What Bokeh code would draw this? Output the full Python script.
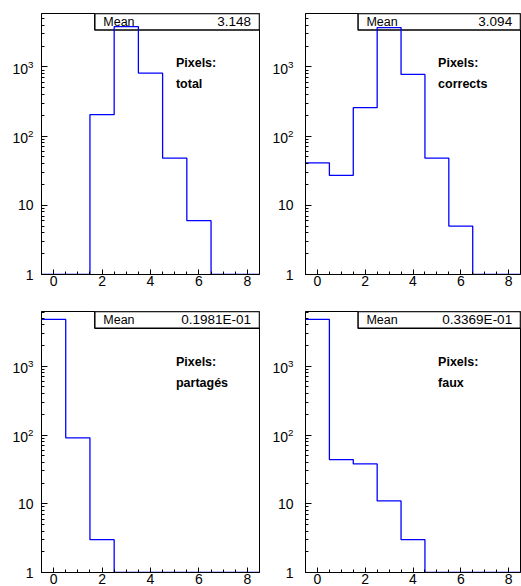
import numpy as np
from bokeh.plotting import figure
from bokeh.layouts import column, row
from bokeh.models import FixedTicker, LogTickFormatter, Range1d
from bokeh.core.properties import value
from bokeh.embed import file_html
from bokeh.resources import INLINE

# ---- data ----
bins = [0, 1, 2, 3, 4, 5, 6, 7, 8]
total = [0, 0, 204, 3800, 812, 48, 6, 0, 0]
corrects = [41, 27, 257, 3700, 778, 48, 5, 0, 0]
partages = [4800, 91, 3, 0, 0, 0, 0, 0, 0]
faux = [4800, 44, 38, 11, 3, 0, 0, 0, 0]
means = ["3.148", "3.094", "0.1981E-01", "0.3369E-01"]
names = ["total", "corrects", "partagés", "faux"]
x_major = [0, 2, 4, 6, 8]
x_minor = [0.5, 1, 1.5, 2.5, 3, 3.5, 4.5, 5, 5.5, 6.5, 7, 7.5]
y_major = [1, 10, 100, 1000]
y_minor = [2, 3, 4, 5, 6, 7, 8, 9,
           20, 30, 40, 50, 60, 70, 80, 90,
           200, 300, 400, 500, 600, 700, 800, 900,
           2000, 3000, 4000, 5000, 6000, 7000, 8000, 9000]

FONT = value("Liberation Sans")


def make(vals, mean_txt, name, left, top):
    W = 264 if left else 257
    H = 296 if top else 290
    y_end = 5900 if top else 6270
    frame_h = 261 if top else 258
    px_dec = frame_h / np.log10(y_end)
    p = figure(width=W, height=H,
               x_range=Range1d(-0.5, 8.5), y_range=Range1d(1, y_end),
               y_axis_type="log", output_backend="svg", toolbar_location=None,
               min_border_left=41,
               min_border_right=5 if left else 1,
               min_border_top=13 if top else 15,
               min_border_bottom=22 if top else 13)
    p.grid.visible = False
    p.outline_line_color = "black"
    p.outline_line_alpha = 1
    p.outline_line_width = 1
    p.background_fill_color = "white"
    p.border_fill_color = "white"

    # axes
    xa = p.xaxis[0]
    xa.ticker = FixedTicker(ticks=x_major, minor_ticks=x_minor)
    xa.major_tick_in = 5
    xa.major_tick_out = 0
    xa.minor_tick_in = 3
    xa.minor_tick_out = 0
    xa.major_label_standoff = 1
    xa.major_label_text_font = "Liberation Sans"
    xa.major_label_text_font_size = "14px"
    xa.major_label_text_color = "black"
    xa.axis_line_color = "black"
    xa.major_tick_line_color = "black"
    xa.minor_tick_line_color = "black"

    ya = p.yaxis[0]
    ya.ticker = FixedTicker(ticks=y_major, minor_ticks=y_minor)
    ya.formatter = LogTickFormatter(min_exponent=1)
    ya.major_label_overrides = {10: "10"}
    ya.major_tick_in = 6
    ya.major_tick_out = 0
    ya.minor_tick_in = 3
    ya.minor_tick_out = 0
    ya.major_label_standoff = 8 if left else 12
    ya.major_label_text_font = "Liberation Sans"
    ya.major_label_text_font_size = "14px"
    ya.major_label_text_color = "black"
    ya.axis_line_color = "black"
    ya.major_tick_line_color = "black"
    ya.minor_tick_line_color = "black"

    # statistics box
    box_bottom = y_end / 10 ** (16.5 / px_dec)
    p.quad(left=[1.7], right=[8.5], top=[y_end], bottom=[box_bottom],
           fill_color="white", line_color="black", line_width=1.5)
    ymid = y_end / 10 ** (8.3 / px_dec)
    p.text(x=[2.05], y=[ymid], text=["Mean"], text_font=FONT,
           text_font_size="12.5px", text_baseline="middle", text_align="left",
           text_color="black")
    p.text(x=[8.15], y=[ymid], text=[mean_txt], text_font=FONT,
           text_font_size="13.5px", text_baseline="middle", text_align="right",
           text_color="black")

    # histogram as step line
    edges = np.array(bins + [bins[-1] + 1], dtype=float) - 0.5
    v = np.maximum(np.array(vals, dtype=float), 1.0)
    yv = np.append(v, v[-1])
    p.step(x=edges, y=yv, mode="after", line_color="#0000ff", line_width=1.3)

    # labels
    p.text(x=[5.05, 5.05],
           y=[y_end / 10 ** (49.7 / px_dec), y_end / 10 ** (70.3 / px_dec)],
           text=["Pixels:", name], text_font=FONT, text_font_size="12.5px",
           text_font_style="bold", text_baseline="middle", text_align="left",
           text_color="black")
    return p


p1 = make(total, means[0], names[0], True, True)
p2 = make(corrects, means[1], names[1], False, True)
p3 = make(partages, means[2], names[2], True, False)
p4 = make(faux, means[3], names[3], False, False)

p = column(row(p1, p2), row(p3, p4))
open("out.html", "w").write(file_html(p, INLINE))
